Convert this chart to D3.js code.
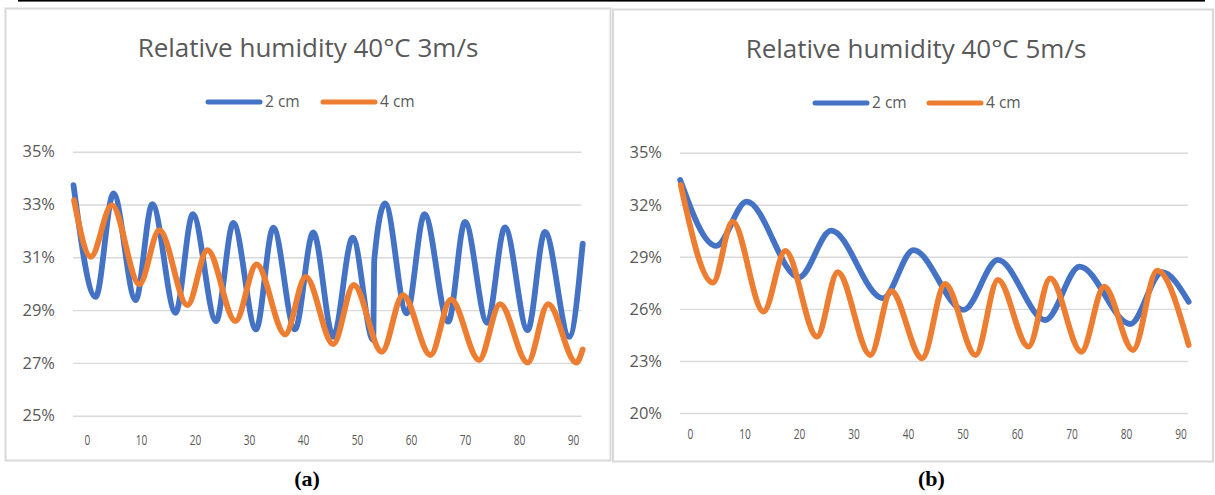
<!DOCTYPE html>
<html>
<head>
<meta charset="utf-8">
<script src="https://cdn.jsdelivr.net/npm/d3@7"></script>
<style>
  body { margin: 0; background: #fff; }
  svg { display: block; }
</style>
</head>
<body>
<svg id="fig" width="1215" height="495"></svg>
<script>
// shared axis values
const xTicks = [0, 10, 20, 30, 40, 50, 60, 70, 80, 90];
const yTicksA = [25, 27, 29, 31, 33, 35];
const yTicksB = [20, 23, 26, 29, 32, 35];
const seriesNames = ['2 cm', '4 cm'];
const seriesColors = ['#4472c4', '#ed7d31'];

// (a) 40°C 3 m/s (peaks / troughs)
const timeA2 = [-2.5, 1.6, 4.9, 9.0, 12.1, 16.4, 19.6, 23.9, 27.1, 31.3, 34.5, 38.5, 41.9, 45.6, 49.2, 53.0, 53.2, 55.2, 59.2, 62.5, 66.9, 70.0, 74.1, 77.4, 81.6, 84.8, 89.3, 91.8];
const rhA2   = [33.73, 29.50, 33.42, 29.38, 33.01, 28.90, 32.63, 28.58, 32.30, 28.27, 32.12, 28.27, 31.94, 27.99, 31.74, 27.87, 30.9, 33.04, 28.88, 32.63, 28.56, 32.34, 28.52, 32.13, 28.24, 31.96, 27.99, 31.52];
const timeA4 = [-2.4, 0.7, 4.6, 9.7, 13.4, 18.6, 22.3, 27.5, 31.4, 36.7, 40.5, 45.6, 49.4, 54.6, 58.5, 63.6, 67.4, 72.6, 76.5, 81.6, 85.4, 90.6, 91.8];
const rhA4   = [33.16, 31.02, 32.98, 29.98, 32.03, 29.19, 31.27, 28.58, 30.73, 28.08, 30.26, 27.71, 29.95, 27.42, 29.57, 27.30, 29.41, 27.11, 29.23, 27.01, 29.23, 27.01, 27.51];

// (b) 40°C 5 m/s
const timeB2 = [-1.8, 4.8, 10.4, 20.0, 25.9, 35.4, 41.0, 50.2, 56.5, 65.2, 71.5, 80.8, 86.6, 91.5];
const rhB2   = [33.43, 29.63, 32.18, 27.82, 30.51, 26.61, 29.39, 25.94, 28.82, 25.36, 28.43, 25.13, 28.11, 26.41];
const timeB4 = [-1.7, 4.2, 7.8, 13.5, 17.5, 23.3, 27.1, 33.1, 36.9, 42.6, 46.8, 52.4, 56.5, 62.1, 66.1, 71.8, 76.0, 81.3, 85.7, 91.5];
const rhB4   = [33.14, 27.51, 31.03, 25.84, 29.34, 24.40, 28.11, 23.34, 27.03, 23.15, 27.44, 23.34, 27.67, 23.82, 27.76, 23.53, 27.28, 23.63, 28.20, 23.92];

const svg = d3.select('#fig');
const textGrey = '#595959';
const gridGrey = '#d9d9d9';
const font = "'Open Sans', sans-serif";

// table border above the figures
svg.append('rect').attr('x', 18).attr('y', 0).attr('width', 1187).attr('height', 1.6).attr('fill', '#000');

let drawPanel = (cfg) => {
  let g = svg.append('g');

  g.append('rect')
    .attr('x', cfg.box[0]).attr('y', cfg.box[1])
    .attr('width', cfg.box[2]).attr('height', cfg.box[3])
    .attr('fill', '#fff').attr('stroke', gridGrey).attr('stroke-width', 2);

  g.append('text')
    .attr('x', cfg.titleX).attr('y', cfg.titleY)
    .attr('text-anchor', 'middle')
    .attr('font-family', font).attr('font-size', 26)
    .attr('fill', textGrey)
    .text(cfg.title);

  // legend
  seriesNames.forEach((name, i) => {
    let lx = cfg.legendX[i];
    g.append('line')
      .attr('x1', lx).attr('x2', lx + 52)
      .attr('y1', cfg.legendY).attr('y2', cfg.legendY)
      .attr('stroke', seriesColors[i]).attr('stroke-width', 5)
      .attr('stroke-linecap', 'round');
    g.append('text')
      .attr('x', lx + 57).attr('y', cfg.legendY)
      .attr('dy', '0.35em')
      .attr('font-family', font).attr('font-size', 15.5)
      .attr('fill', textGrey)
      .text(name);
  });

  let x = d3.scaleLinear().domain([0, 90]).range(cfg.xRange);
  let y = d3.scaleLinear().domain(cfg.yDomain).range(cfg.yRange);

  let yAxis = g.append('g')
    .attr('transform', `translate(${cfg.gridX[0]},0)`)
    .call(d3.axisLeft(y)
      .tickValues(cfg.yTicks)
      .tickSize(-(cfg.gridX[1] - cfg.gridX[0]))
      .tickPadding(18)
      .tickFormat(d => d + '%'));
  yAxis.select('.domain').remove();
  yAxis.selectAll('line').attr('stroke', gridGrey).attr('stroke-width', 1.4);
  yAxis.selectAll('text')
    .attr('font-family', font).attr('font-size', 16.5)
    .attr('fill', textGrey);

  let xAxis = g.append('g')
    .attr('transform', `translate(0,${cfg.yRange[0]})`)
    .call(d3.axisBottom(x)
      .tickValues(xTicks)
      .tickSize(0)
      .tickPadding(cfg.xPad));
  xAxis.select('.domain').remove();
  xAxis.selectAll('text')
    .attr('font-family', font).attr('font-size', 14)
    .attr('fill', textGrey)
    .attr('textLength', d => String(d).length * 5.8)
    .attr('lengthAdjust', 'spacingAndGlyphs');

  let line = d3.line()
    .x(d => x(d[0]))
    .y(d => y(d[1]))
    .curve(d3.curveMonotoneX);

  cfg.series.forEach((s, i) => {
    g.append('path')
      .datum(d3.zip(s[0], s[1]))
      .attr('d', line)
      .attr('fill', 'none')
      .attr('stroke', seriesColors[i])
      .attr('stroke-width', 5.8)
      .attr('stroke-linejoin', 'round')
      .attr('stroke-linecap', 'round');
  });

  svg.append('text')
    .attr('x', cfg.captionX).attr('y', 486)
    .attr('text-anchor', 'middle')
    .attr('font-family', "'Liberation Serif', 'Times New Roman', serif")
    .attr('font-weight', 'bold').attr('font-size', 22)
    .attr('fill', '#000')
    .text(cfg.caption);
};

drawPanel({
  box: [5.5, 8.5, 605, 452],
  title: 'Relative humidity 40°C 3m/s',
  titleX: 308, titleY: 57,
  legendX: [208, 323], legendY: 102,
  xRange: [87, 573],
  yDomain: [25, 35], yRange: [415.7, 151.7],
  yTicks: yTicksA,
  gridX: [73, 581.5],
  xPad: 19.5,
  series: [[timeA2, rhA2], [timeA4, rhA4]],
  caption: '(a)', captionX: 307
});

drawPanel({
  box: [613, 9.5, 600, 452],
  title: 'Relative humidity 40°C 5m/s',
  titleX: 916, titleY: 58,
  legendX: [815, 929], legendY: 103,
  xRange: [690, 1180.5],
  yDomain: [20, 35], yRange: [413, 152.7],
  yTicks: yTicksB,
  gridX: [680, 1188],
  xPad: 16.5,
  series: [[timeB2, rhB2], [timeB4, rhB4]],
  caption: '(b)', captionX: 931.5
});
</script>
</body>
</html>
